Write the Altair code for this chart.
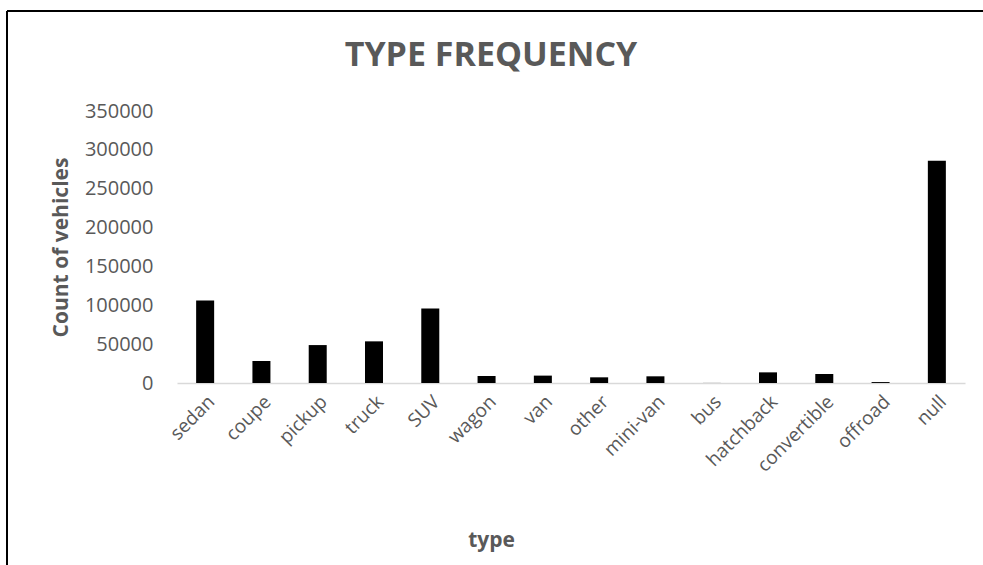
import altair as alt
import pandas as pd

types = ["sedan", "coupe", "pickup", "truck", "SUV", "wagon", "van", "other",
         "mini-van", "bus", "hatchback", "convertible", "offroad", "null"]
counts = [106000, 28300, 48800, 53600, 96000, 9000, 9500, 7300,
          8600, 100, 13700, 11600, 1200, 286000]

df = pd.DataFrame({"type": types, "count": counts})

GREY = "#595959"
FONT = "Open Sans"

bars = alt.Chart(df).mark_bar(color="black").encode(
    x=alt.X("type:N", sort=types,
            scale=alt.Scale(paddingInner=0.68, paddingOuter=0.34),
            axis=alt.Axis(title="type", labelAngle=-45, labelFontSize=19,
                          labelColor=GREY, labelFont=FONT, ticks=False,
                          labelPadding=9, domainColor="#d9d9d9", domainWidth=1.5,
                          titleFont=FONT, titleFontSize=21, titleFontWeight="bold",
                          titleColor=GREY, titleX=314, titleY=163,
                          titleBaseline="alphabetic", titleAnchor="start",
                          titleAlign="center")),
    y=alt.Y("count:Q", scale=alt.Scale(domain=[0, 350000]),
            axis=alt.Axis(title="Count of vehicles", values=list(range(0, 350001, 50000)),
                          format="d", grid=False, domain=False, ticks=False,
                          labelFontSize=20, labelColor=GREY, labelFont=FONT,
                          labelPadding=24, titleFont=FONT, titleFontSize=21,
                          titleFontWeight="bold", titleColor=GREY,
                          titleX=-110, titleY=136, titleBaseline="alphabetic",
                          titleAlign="center", titleAngle=-90)),
)

border_top = alt.Chart(df).mark_rule(color="black", strokeWidth=2).encode(
    x=alt.value(-170), x2=alt.value(820), y=alt.value(-100))
border_left = alt.Chart(df).mark_rule(color="black", strokeWidth=2).encode(
    x=alt.value(-170), y=alt.value(-100), y2=alt.value(460))

chart = alt.layer(bars, border_top, border_left).properties(
    width=788, height=272,
    autosize=alt.AutoSizeParams(type="none"),
    padding={"left": 177, "top": 111, "right": 18, "bottom": 182},
    title=alt.TitleParams("TYPE FREQUENCY", font=FONT, fontSize=34, fontWeight="bold",
                          color=GREY, anchor="middle", frame="group", dx=-80,
                          baseline="alphabetic", offset=0, dy=90),
).configure(background="white").configure_view(strokeWidth=0, stroke=None)

chart.save("out.html", embed_options={"renderer": "svg", "actions": False})
